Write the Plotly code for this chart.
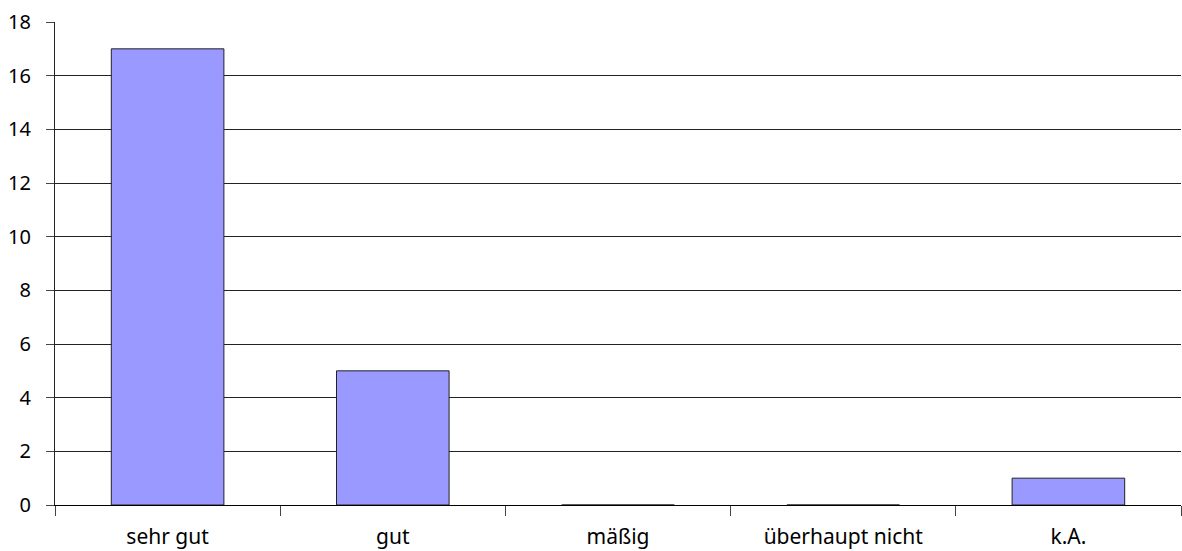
import plotly.graph_objects as go

categories = ["sehr gut", "gut", "mäßig", "überhaupt nicht", "k.A."]
values = [17, 5, 0, 0, 1]
y_ticks = [0, 2, 4, 6, 8, 10, 12, 14, 16, 18]

fig = go.Figure(go.Bar(
    x=categories, y=values, width=0.5,
    marker=dict(color="#9999FF", line=dict(color="#222222", width=1)),
))

fig.update_layout(
    width=1182, height=551, autosize=False,
    margin=dict(l=55, r=1, t=22, b=46),
    paper_bgcolor="white", plot_bgcolor="white",
    font=dict(family="Noto Sans", size=21, color="#000000"),
    showlegend=False,
)
fig.update_xaxes(
    type="category", tickson="boundaries", ticks="outside", ticklen=10,
    tickcolor="#444444", tickwidth=1,
    showline=True, linecolor="#000000", linewidth=1,
    showgrid=False, tickfont=dict(size=21), ticklabelstandoff=13,
)
fig.update_yaxes(
    range=[0, 18], tickvals=y_ticks, ticks="outside", ticklen=8,
    tickcolor="#444444", tickwidth=1,
    showline=True, linecolor="#222222", linewidth=1,
    showgrid=True, gridcolor="#222222", gridwidth=1,
    zeroline=False, tickfont=dict(size=20), ticklabelstandoff=11,
)

post = ("document.body.style.margin='0';document.body.style.overflow='hidden';"
        "document.documentElement.style.overflow='hidden';"
        "Plotly.relayout('{plot_id}', {width:1182, height:551});")
fig.write_html("out.html", post_script=post,
               config={"responsive": False, "displayModeBar": False})
